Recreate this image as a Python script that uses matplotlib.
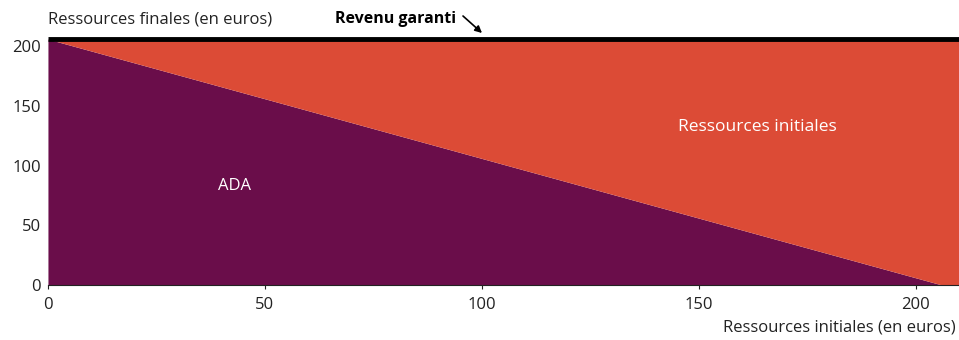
import matplotlib
matplotlib.use("Agg")
import matplotlib.pyplot as plt
import numpy as np

plt.rcParams['font.family'] = ['Open Sans', 'DejaVu Sans']

# Data
revenu_garanti = 206
x_vals = [0, 206, 210]
ada_vals = [206, 0, 0]
x_ticks = [0, 50, 100, 150, 200]
y_ticks = [0, 50, 100, 150, 200]

purple = '#6A0D4A'
orange = '#DC4B36'
fs = 12

fig = plt.figure(figsize=(9.59, 3.40), dpi=100)
ax = fig.add_axes([0.050, 0.162, 0.950, 0.723])

x = np.array(x_vals, dtype=float)
ada = np.array(ada_vals, dtype=float)
top = np.full_like(x, revenu_garanti)

ax.fill_between(x, 0, ada, color=purple, linewidth=0)
ax.fill_between(x, ada, top, color=orange, linewidth=0)
ax.plot([x[0], x[-1]], [revenu_garanti, revenu_garanti], color='black', lw=3.5,
        solid_capstyle='butt', clip_on=False)

ax.set_xlim(0, 210)
ax.set_ylim(0, revenu_garanti)
ax.set_xticks(x_ticks)
ax.set_yticks(y_ticks)
ax.tick_params(axis='both', labelsize=fs, colors='#222222', length=3, width=0.8)
ax.tick_params(axis='y', length=0, pad=5)
ax.tick_params(axis='x', pad=6)
for s in ['top', 'right', 'left']:
    ax.spines[s].set_visible(False)
ax.spines['bottom'].set_color('#222222')
ax.spines['bottom'].set_linewidth(0.8)

ax.text(43, 83, 'ADA', color='white', fontsize=fs, ha='center', va='center')
ax.text(163.5, 132, 'Ressources initiales', color='white', fontsize=12.5, ha='center', va='center')

fig.text(48/959, 1 - 20/340, 'Ressources finales (en euros)', fontsize=fs, ha='left', va='center', color='#222222')
fig.text(956/959, 1 - 328/340, 'Ressources initiales (en euros)', fontsize=fs, ha='right', va='center', color='#222222')
fig.text(396/959, 1 - 19/340, 'Revenu garanti', fontsize=11.5, fontweight='bold', ha='center', va='center', color='black')
ax.annotate('', xy=(482, 340 - 33), xycoords='figure pixels',
            xytext=(463, 340 - 16), textcoords='figure pixels',
            arrowprops=dict(arrowstyle='-|>', color='black', lw=1.2, mutation_scale=10,
                            shrinkA=0, shrinkB=0),
            annotation_clip=False)

fig.savefig('out.png', dpi=100)
